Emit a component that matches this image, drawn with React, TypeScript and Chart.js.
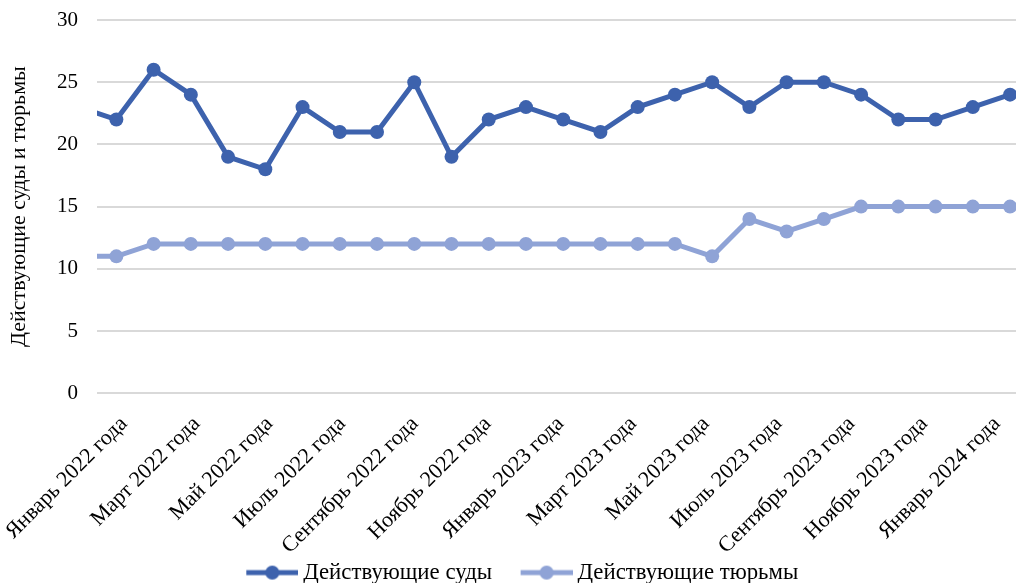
import React, { useEffect, useRef } from "react";
import { Chart, registerables } from "chart.js";

Chart.register(...registerables);

// Months (index 0 is the partly visible point before January 2022)
const months: string[] = [
  "Декабрь 2021 года",
  "Январь 2022 года",
  "Февраль 2022 года",
  "Март 2022 года",
  "Апрель 2022 года",
  "Май 2022 года",
  "Июнь 2022 года",
  "Июль 2022 года",
  "Август 2022 года",
  "Сентябрь 2022 года",
  "Октябрь 2022 года",
  "Ноябрь 2022 года",
  "Декабрь 2022 года",
  "Январь 2023 года",
  "Февраль 2023 года",
  "Март 2023 года",
  "Апрель 2023 года",
  "Май 2023 года",
  "Июнь 2023 года",
  "Июль 2023 года",
  "Август 2023 года",
  "Сентябрь 2023 года",
  "Октябрь 2023 года",
  "Ноябрь 2023 года",
  "Декабрь 2023 года",
  "Январь 2024 года",
];

const courts: number[] = [
  23, 22, 26, 24, 19, 18, 23, 21, 21, 25, 19, 22, 23,
  22, 21, 23, 24, 25, 23, 25, 25, 24, 22, 22, 23, 24,
];

const prisons: number[] = [
  11, 11, 12, 12, 12, 12, 12, 12, 12, 12, 12, 12, 12,
  12, 12, 12, 12, 11, 14, 13, 14, 15, 15, 15, 15, 15,
];

const tickIndices: number[] = [1, 3, 5, 7, 9, 11, 13, 15, 17, 19, 21, 23, 25];
const yTicks: number[] = [0, 5, 10, 15, 20, 25, 30];

const seriesNames = ["Действующие суды", "Действующие тюрьмы"];
const colors = ["#3d62ad", "#8fa3d6"];

const FONT_FAMILY = "'Liberation Serif', 'Times New Roman', serif";

const LEGEND_BOX = 74;

function makeLegendIcon(color: string): HTMLCanvasElement {
  const c = document.createElement("canvas");
  const W = LEGEND_BOX + 13;
  const H = 16;
  c.width = W;
  c.height = H;
  const ctx = c.getContext("2d")!;
  const x0 = W - 52;
  ctx.strokeStyle = color;
  ctx.lineWidth = 5;
  ctx.beginPath();
  ctx.moveTo(x0, H / 2);
  ctx.lineTo(W, H / 2);
  ctx.stroke();
  ctx.fillStyle = color;
  ctx.beginPath();
  ctx.arc(x0 + 26, H / 2, 7, 0, Math.PI * 2);
  ctx.fill();
  return c;
}

export default function App() {
  const canvasRef = useRef<HTMLCanvasElement | null>(null);

  useEffect(() => {
    if (!canvasRef.current) return;
    const icons = colors.map(makeLegendIcon);

    const makeData = (arr: number[]) => arr.map((v, i) => ({ x: i, y: v }));

    const chart = new Chart(canvasRef.current, {
      type: "line",
      data: {
        datasets: [courts, prisons].map((arr, i) => ({
          label: seriesNames[i],
          data: makeData(arr),
          xAxisID: "x",
          yAxisID: "y",
          borderColor: colors[i],
          backgroundColor: colors[i],
          borderWidth: 5,
          pointRadius: 7,
          pointBackgroundColor: colors[i],
          pointBorderColor: colors[i],
          pointBorderWidth: 0,
          tension: 0,
          fill: false,
          clip: { left: 0, right: false, top: false, bottom: false } as any,
          order: i,
        })),
      },
      options: {
        animation: false,
        responsive: true,
        maintainAspectRatio: false,
        layout: { autoPadding: false, padding: { top: 20, left: 0, right: 0, bottom: -11 } } as any,
        plugins: {
          tooltip: { enabled: false },
          legend: {
            display: true,
            position: "bottom",
            labels: {
              usePointStyle: true,
              pointStyleWidth: LEGEND_BOX,
              boxHeight: 16,
              padding: 0,
              color: "#000",
              font: { family: FONT_FAMILY, size: 22.8 },
              generateLabels: (ch: any) =>
                ch.data.datasets.map((ds: any, i: number) => ({
                  text: ds.label,
                  pointStyle: icons[i],
                  fillStyle: colors[i],
                  strokeStyle: colors[i],
                  lineWidth: 0,
                  fontColor: "#000",
                  datasetIndex: i,
                  hidden: false,
                })),
            },
          },
        },
        scales: {
          // data axis (positions of the points)
          x: {
            type: "linear",
            display: false,
            min: 0.48,
            max: 25.16,
          },
          // label axis (month labels, placed like in the original)
          xLabels: {
            type: "linear",
            position: "bottom",
            min: 0.2577,
            max: 25.523,
            afterBuildTicks: (s: any) => {
              s.ticks = tickIndices.map((v) => ({ value: v }));
            },
            afterFit: (s: any) => {
              s.height = 168;
              s.paddingLeft = 0;
              s.paddingRight = 0;
            },
            ticks: {
              autoSkip: false,
              minRotation: 45,
              maxRotation: 45,
              padding: 10,
              color: "#000",
              font: { family: FONT_FAMILY, size: 22 },
              callback: (v: any) => months[v as number] ?? "",
            },
            grid: { display: false },
            border: { display: false },
          },
          y: {
            min: 0,
            max: 30,
            afterBuildTicks: (s: any) => {
              s.ticks = yTicks.map((v) => ({ value: v }));
            },
            afterFit: (s: any) => {
              s.width = 97;
              s.paddingTop = 0;
              s.paddingBottom = 0;
            },
            ticks: { padding: 19, color: "#000", font: { family: FONT_FAMILY, size: 21 } },
            grid: { color: "#d9d9d9", lineWidth: 2, drawTicks: false },
            border: { display: false },
            title: {
              display: true,
              text: "Действующие суды и тюрьмы",
              color: "#000",
              font: { family: FONT_FAMILY, size: 22 },
              padding: { top: 6, bottom: 0 },
            },
          },
        },
      },
    });
    return () => chart.destroy();
  }, []);

  return (
    <div style={{ position: "absolute", left: 0, top: 0, width: 1016, height: 583 }}>
      <canvas ref={canvasRef} />
    </div>
  );
}
